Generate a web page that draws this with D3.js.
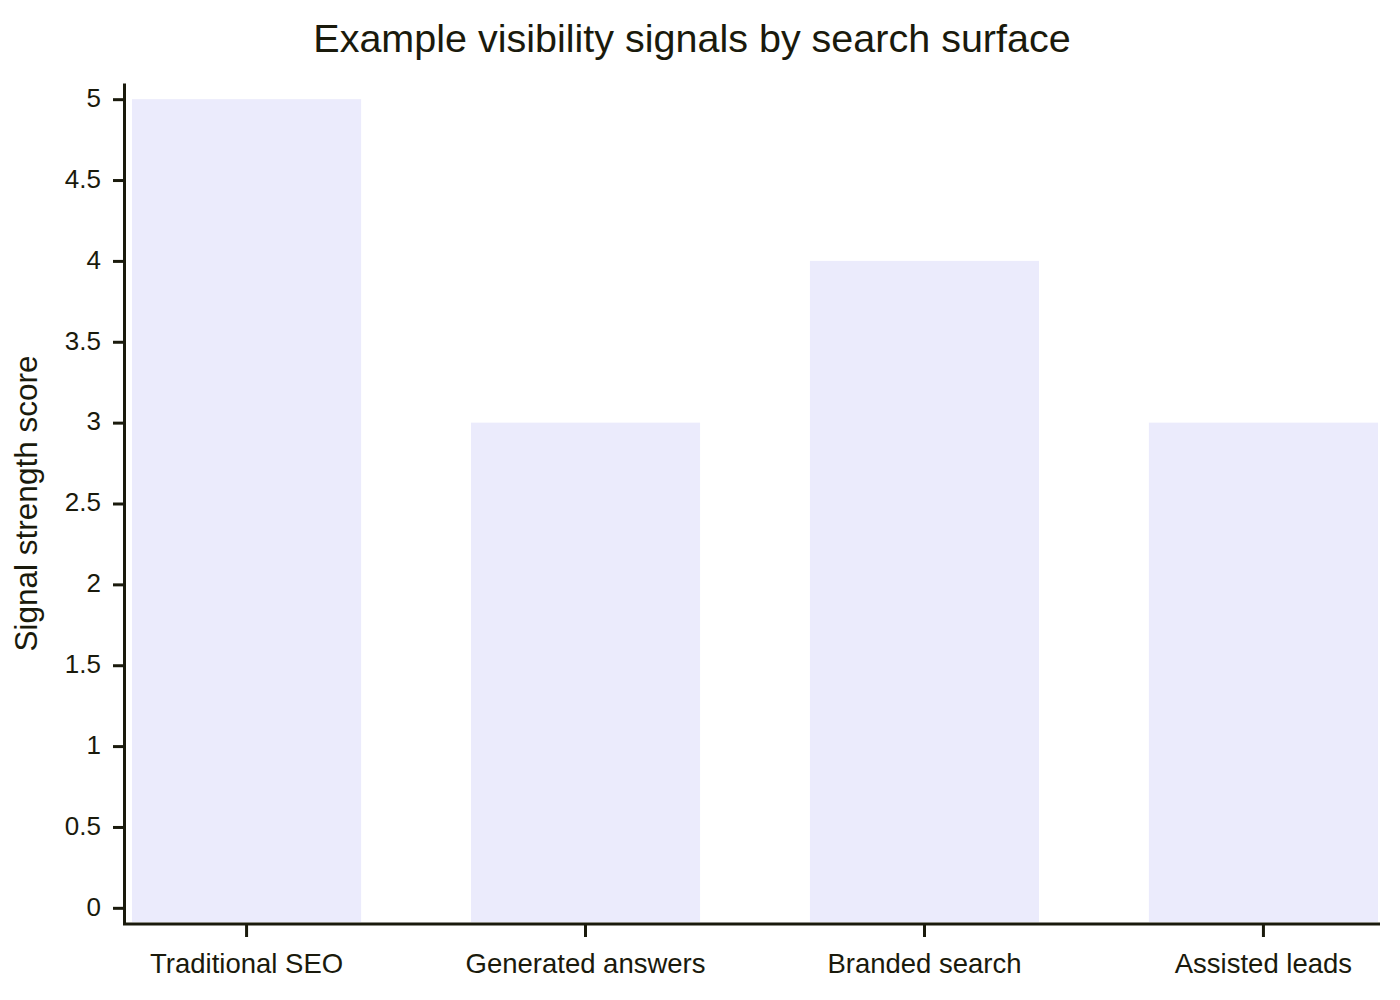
<!DOCTYPE html>
<html>
<head>
<meta charset="utf-8">
<title>Example visibility signals by search surface</title>
<script src="https://d3js.org/d3.v7.min.js"></script>
<style>
  body { margin: 0; background: #fff; }
  text { font-family: "Liberation Sans", Arial, sans-serif; fill: #1a1a0c; }
</style>
</head>
<body>
<svg id="chart" width="1400" height="1000"></svg>
<script>
var categories = ["Traditional SEO", "Generated answers", "Branded search", "Assisted leads"];
var scores = [5, 3, 4, 3];
var yTicks = [0, 0.5, 1, 1.5, 2, 2.5, 3, 3.5, 4, 4.5, 5];
var yTickLabels = ["0", "0.5", "1", "1.5", "2", "2.5", "3", "3.5", "4", "4.5", "5"];

var svg = d3.select("#chart"),
    margin = {left: 124, right: 20, top: 83, bottom: 76},
    width = +svg.attr("width"),
    height = +svg.attr("height"),
    axisColor = "#1a1a0c";

var x = d3.scaleBand()
    .domain(categories)
    .range([132, width - 22])
    .paddingInner(0.324)
    .paddingOuter(0);

var y = d3.scaleLinear()
    .domain([-0.1, 5.1])
    .range([height - margin.bottom, margin.top]);

// bars
svg.append("g")
  .selectAll("rect")
  .data(scores)
  .join("rect")
    .attr("x", function(d, i) { return x(categories[i]); })
    .attr("width", x.bandwidth())
    .attr("y", function(d) { return y(d); })
    .attr("height", function(d) { return y(-0.1) - y(d) - 2; })
    .attr("fill", "#ebebfc");

// y axis
var yAxis = svg.append("g")
    .attr("transform", "translate(" + margin.left + ",0)")
    .call(d3.axisLeft(y)
      .tickValues(yTicks)
      .tickFormat(function(d, i) { return yTickLabels[i]; })
      .tickSize(11)
      .tickSizeOuter(0)
      .tickPadding(12));
yAxis.select(".domain").attr("stroke", axisColor).attr("stroke-width", 3);
yAxis.selectAll(".tick line").attr("stroke", axisColor).attr("stroke-width", 3);
yAxis.selectAll(".tick text").style("font-size", "26px").attr("fill", axisColor).attr("dy", "0.28em");

// x axis
var xAxis = svg.append("g")
    .attr("transform", "translate(0," + (height - margin.bottom) + ")")
    .call(d3.axisBottom(x).tickSize(13).tickSizeOuter(0).tickPadding(16));
xAxis.select(".domain").remove();
xAxis.append("line")
    .attr("x1", margin.left - 1)
    .attr("x2", width - margin.right)
    .attr("stroke", axisColor)
    .attr("stroke-width", 3);
xAxis.selectAll(".tick line").attr("stroke", axisColor).attr("stroke-width", 3);
xAxis.selectAll(".tick text").style("font-size", "27.5px").attr("fill", axisColor);

// title
svg.append("text")
    .attr("x", 692)
    .attr("y", 52)
    .attr("text-anchor", "middle")
    .style("font-size", "39.5px")
    .text("Example visibility signals by search surface");

// y label
svg.append("text")
    .attr("transform", "translate(37," + y(2.5) + ") rotate(-90)")
    .attr("text-anchor", "middle")
    .style("font-size", "31.5px")
    .text("Signal strength score");
</script>
</body>
</html>
